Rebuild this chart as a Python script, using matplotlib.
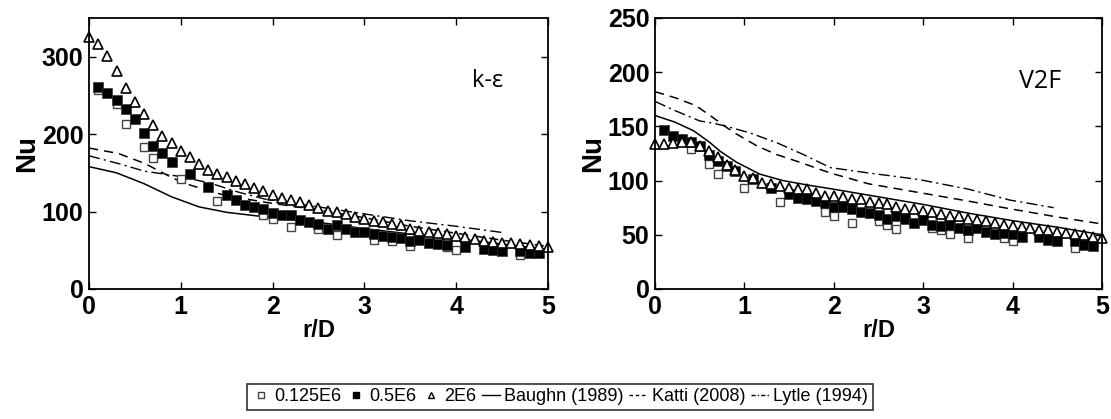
import numpy as np
import matplotlib.pyplot as plt
from matplotlib.lines import Line2D

plt.rcParams['font.family'] = ['Liberation Sans', 'DejaVu Sans']

# ---- k-epsilon panel ----
ke_x_lo = [0.1, 0.3, 0.4, 0.6, 0.7, 1.0, 1.4, 1.9, 2.0, 2.2, 2.5, 2.7, 3.1, 3.3, 3.5, 3.9, 4.0, 4.7]
ke_y_lo = [257, 239, 213, 183, 169, 142, 114, 96, 90, 80, 77, 70, 63, 62, 56, 54, 50, 44]

ke_x_mid = [0.1, 0.2, 0.3, 0.4, 0.5, 0.6, 0.7, 0.8, 0.9, 1.1, 1.3, 1.5, 1.6, 1.7, 1.8, 1.9,
            2.0, 2.1, 2.2, 2.3, 2.4, 2.5, 2.6, 2.7, 2.8, 2.9, 3.0, 3.1, 3.2, 3.3, 3.4, 3.5,
            3.6, 3.7, 3.8, 3.9, 4.1, 4.3, 4.4, 4.5, 4.7, 4.8, 4.9]
ke_y_mid = [261, 253, 244, 232, 219, 201, 185, 175, 164, 148, 132, 121, 115, 109, 106, 103,
            98, 96, 95, 89, 87, 84, 77, 82, 77, 74, 74, 71, 69, 67, 66, 62,
            63, 60, 58, 57, 54, 51, 50, 49, 49, 47, 47]

ke_x_hi = [0.0, 0.1, 0.2, 0.3, 0.4, 0.5, 0.6, 0.7, 0.8, 0.9, 1.0, 1.1, 1.2, 1.3, 1.4, 1.5, 1.6,
           1.7, 1.8, 1.9, 2.0, 2.1, 2.2, 2.3, 2.4, 2.5, 2.6, 2.7, 2.8, 2.9, 3.0, 3.1, 3.2, 3.3,
           3.4, 3.5, 3.6, 3.7, 3.8, 3.9, 4.0, 4.1, 4.2, 4.3, 4.4, 4.5, 4.6, 4.7, 4.8, 4.9, 5.0]
ke_y_hi = [326, 317, 301, 282, 259, 242, 226, 212, 198, 188, 178, 170, 161, 154, 149, 144, 139,
           135, 130, 126, 122, 118, 115, 112, 109, 105, 101, 99, 97, 93, 90, 88, 86, 84,
           82, 77, 75, 74, 72, 71, 69, 67, 64, 62, 61, 60, 59, 58, 57, 56, 54]

ke_bau_x = [0, 0.3, 0.6, 0.9, 1.2, 1.5, 2.0, 2.5, 3.0, 3.5, 4.0, 4.5, 5.0]
ke_bau_y = [158, 150, 136, 119, 106, 99, 92, 86, 78, 71, 65, 58, 51]
ke_kat_x = [0, 0.32, 0.61, 0.9, 1.05, 1.19, 1.48, 1.92, 2.5, 3.0, 3.5, 4.0, 4.5, 5.0]
ke_kat_y = [182, 175, 162, 144, 136, 131, 121, 112, 102, 92, 81, 72, 63, 55]
ke_lyt_x = [0, 0.32, 0.61, 0.9, 1.05, 1.34, 1.63, 1.92, 2.5, 3.0, 3.5, 4.0, 4.5]
ke_lyt_y = [172, 162, 152, 147, 144, 136, 125, 116, 106, 97, 88, 81, 73]

# ---- V2F panel ----
v2_x_lo = [0.4, 0.6, 0.7, 1.0, 1.4, 1.9, 2.0, 2.2, 2.5, 2.6, 2.7, 3.1, 3.2, 3.3, 3.5, 3.9, 4.0, 4.7]
v2_y_lo = [129, 115, 106, 93, 80, 71, 67, 61, 63, 59, 55, 56, 54, 51, 47, 47, 44, 38]

v2_x_mid = [0.1, 0.2, 0.3, 0.4, 0.5, 0.6, 0.7, 0.8, 0.9, 1.1, 1.3, 1.5, 1.6, 1.7, 1.8, 1.9,
            2.0, 2.1, 2.2, 2.3, 2.4, 2.5, 2.6, 2.7, 2.8, 2.9, 3.0, 3.1, 3.2, 3.3, 3.4, 3.5,
            3.6, 3.7, 3.8, 3.9, 4.0, 4.1, 4.3, 4.4, 4.5, 4.7, 4.8, 4.9]
v2_y_mid = [147, 141, 138, 136, 132, 124, 118, 113, 109, 101, 93, 88, 84, 83, 81, 79,
            76, 76, 74, 71, 70, 68, 65, 67, 65, 61, 64, 59, 58, 59, 56, 54,
            56, 53, 51, 52, 51, 48, 48, 45, 44, 44, 41, 40]

v2_x_hi = ke_x_hi
v2_y_hi = [134, 134, 135, 136, 136, 132, 127, 122, 114, 110, 104, 102, 98, 97, 95, 93, 92,
           92, 89, 86, 86, 85, 83, 83, 80, 79, 78, 76, 74, 74, 72, 71, 69, 67,
           67, 65, 64, 63, 61, 59, 58, 57, 56, 54, 54, 53, 52, 51, 50, 48, 47]

v2_bau_x = [0, 0.22, 0.43, 0.6, 0.73, 0.91, 1.17, 1.43, 1.7, 2.0, 2.5, 3.0, 3.5, 4.0, 4.5, 5.0]
v2_bau_y = [160, 154, 146, 136, 127, 117, 106, 100, 96, 92, 85, 78, 70, 63, 57, 50]
v2_kat_x = [0, 0.24, 0.46, 0.65, 0.8, 0.91, 1.14, 1.36, 1.58, 1.96, 2.39, 2.95, 3.51, 3.97, 4.53, 5.0]
v2_kat_y = [182, 176, 169, 158, 149, 143, 132, 124, 118, 107, 97, 89, 81, 74, 66, 60]
v2_lyt_x = [0, 0.24, 0.5, 0.65, 0.8, 1.06, 1.36, 1.66, 1.96, 2.39, 2.95, 3.51, 3.97, 4.46]
v2_lyt_y = [173, 164, 155, 153, 150, 144, 135, 124, 112, 107, 101, 92, 82, 75]

fig = plt.figure(figsize=(11.11, 4.19), dpi=100)
ax1 = fig.add_axes([0.0801, 0.3103, 0.4131, 0.6468])
ax2 = fig.add_axes([0.5896, 0.3103, 0.4023, 0.6468])

dash = (0, (6, 4))
dashdot = (0, (8, 3, 1.5, 3))

def draw(ax, xlo, ylo, xmid, ymid, xhi, yhi, bx, by, kx, ky, lx, ly):
    ax.plot(bx, by, '-', color='black', lw=1.1)
    ax.plot(kx, ky, color='black', lw=1.1, ls=dash)
    ax.plot(lx, ly, color='black', lw=1.0, ls=dashdot)
    ax.plot(xlo, ylo, 's', ms=5.5, mfc='white', mec='#444444', mew=1.0, ls='none', clip_on=False)
    ax.plot(xmid, ymid, 's', ms=6.5, mfc='black', mec='#333333', mew=0.5, ls='none', clip_on=False)
    ax.plot(xhi, yhi, '^', ms=7.5, mfc='white', mec='black', mew=1.2, ls='none', clip_on=False)
    ax.set_xlim(0, 5)
    ax.set_xticks([0, 1, 2, 3, 4, 5])
    ax.tick_params(direction='in', top=True, right=True, length=5, width=1,
                   labelsize=18, pad=4)
    for lab in ax.get_xticklabels() + ax.get_yticklabels():
        lab.set_fontweight('bold')
    for sp in ax.spines.values():
        sp.set_linewidth(1.3)
    ax.set_xlabel('r/D', fontsize=17, fontweight='bold', labelpad=0)
    ax.set_ylabel('Nu', fontsize=20, fontweight='bold', labelpad=1)

ax1.set_ylim(0, 350)
ax1.set_yticks([0, 100, 200, 300])
draw(ax1, ke_x_lo, ke_y_lo, ke_x_mid, ke_y_mid, ke_x_hi, ke_y_hi,
     ke_bau_x, ke_bau_y, ke_kat_x, ke_kat_y, ke_lyt_x, ke_lyt_y)
ax1.text(4.34, 268, 'k-ε', fontsize=17, family=['Open Sans', 'DejaVu Sans'],
         ha='center', va='center')

ax2.set_ylim(0, 250)
ax2.set_yticks([0, 50, 100, 150, 200, 250])
draw(ax2, v2_x_lo, v2_y_lo, v2_x_mid, v2_y_mid, v2_x_hi, v2_y_hi,
     v2_bau_x, v2_bau_y, v2_kat_x, v2_kat_y, v2_lyt_x, v2_lyt_y)
ax2.text(4.31, 191, 'V2F', fontsize=18, family=['Open Sans', 'DejaVu Sans'],
         ha='center', va='center')

handles = [
    Line2D([], [], marker='s', ms=4, mfc='white', mec='#444444', ls='none'),
    Line2D([], [], marker='s', ms=4.5, mfc='black', mec='black', ls='none'),
    Line2D([], [], marker='^', ms=5, mfc='white', mec='black', ls='none'),
    Line2D([], [], color='black', lw=1.0),
    Line2D([], [], color='black', lw=1.0, ls=(0, (2.5, 2))),
    Line2D([], [], color='black', lw=1.0, ls=(0, (3, 1.5, 1, 1.5))),
]
labels = ['0.125E6', '0.5E6', '2E6', 'Baughn (1989)', 'Katti (2008)', 'Lytle (1994)']
leg = fig.legend(handles, labels, loc='center', bbox_to_anchor=(0.504, 0.053), ncol=6,
                 frameon=True, fancybox=False, edgecolor='black', fontsize=13,
                 handlelength=1.0, handletextpad=0.25, columnspacing=0.3,
                 borderpad=0.25, borderaxespad=0)
leg.get_frame().set_linewidth(1.2)

fig.savefig('out.png', dpi=100)
